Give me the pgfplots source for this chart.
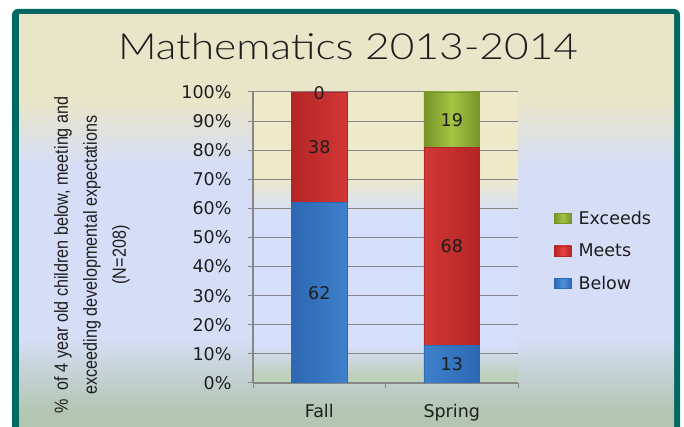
\documentclass[border=0pt]{standalone}
\usepackage{pgfplots}
\pgfplotsset{compat=1.18}
\usepackage{fontspec}
\setmainfont{DejaVu Sans}
\newfontfamily\titlefont[FakeStretch=1.18]{Lato Light}
\newfontfamily\narrowfont[FakeStretch=0.85]{Liberation Sans}
\definecolor{frame}{RGB}{0,104,98}
\definecolor{bgbeige}{RGB}{233,229,200}
\definecolor{bgblue}{RGB}{214,222,247}
\definecolor{bggreen}{RGB}{178,198,178}
\definecolor{pabeige}{RGB}{237,233,201}
\definecolor{pablue}{RGB}{214,223,250}
\definecolor{pagreen}{RGB}{190,207,188}
\definecolor{bluedark}{RGB}{45,104,178}
\definecolor{bluelight}{RGB}{75,145,222}
\definecolor{reddark}{RGB}{180,38,38}
\definecolor{redlight}{RGB}{232,66,66}
\definecolor{greendark}{RGB}{118,148,40}
\definecolor{greenlight}{RGB}{165,196,68}
\definecolor{gridgray}{RGB}{135,135,135}
\definecolor{txt}{RGB}{30,30,30}
\pgfdeclareverticalshading{chartbg}{100bp}{color(0bp)=(bggreen); color(28bp)=(bggreen); color(37bp)=(bgblue); color(57bp)=(bgblue); color(65bp)=(bgbeige); color(100bp)=(bgbeige)}
\pgfdeclareverticalshading{plotbg}{100bp}{color(0bp)=(pagreen); color(26.5bp)=(pagreen); color(31.5bp)=(pablue); color(54bp)=(pablue); color(60.5bp)=(pabeige); color(100bp)=(pabeige)}
\pgfplotstableread{
x below meets exceeds
0 62 38 0
1 13 68 19
}\datatable
\begin{document}
\begin{tikzpicture}[x=1pt,y=1pt]
\useasboundingbox (0,0) rectangle (684,427);
\begin{scope}
\clip (0,0) rectangle (684,427);
\fill[frame, rounded corners=6pt] (12,-20) rectangle (680,418);
\shade[shading=chartbg] (19,-10) rectangle (674,412);
\end{scope}
\node[font=\titlefont\fontsize{36}{40}\selectfont, text=txt, anchor=base] at (348,367) {Mathematics 2013-2014};
\node[rotate=90, align=center, font=\narrowfont\fontsize{19}{29}\selectfont, text=txt] at (92,172) {\%\ \ of 4 year old children below, meeting and\\exceeding developmental expectations\\(N=208)};
\begin{axis}[
  at={(253pt,44pt)}, anchor=south west,
  scale only axis, width=265pt, height=291pt,
  ybar stacked, bar width=0.42,
  xmin=-0.5, xmax=1.5, ymin=0, ymax=100,
  axis background/.style={shading=plotbg},
  xtick={0,1}, xticklabels={Fall,Spring},
  xtick style={draw=none},
  extra x ticks={-0.5,0.5,1.5}, extra x tick labels={},
  extra x tick style={xtick style={draw=gridgray, line width=1pt}},
  ytick={0,10,...,100},
  yticklabels={0\%,10\%,20\%,30\%,40\%,50\%,60\%,70\%,80\%,90\%,100\%},
  axis x line*=bottom, axis y line*=left,
  axis line style={gridgray, line width=1.2pt},
  tick align=outside, major tick length=5pt,
  ytick style={gridgray, line width=1pt},
  ymajorgrids, grid style={gridgray, line width=1pt},
  ticklabel style={font=\fontsize{17.5}{20}\selectfont, text=txt},
  yticklabel style={xshift=-13pt},
  xticklabel style={yshift=-13pt},
  legend cell align=left,
  reverse legend,
  legend style={draw=none, fill=none, at={(axis description cs:1.135,0.4536)}, anchor=west, inner sep=0pt, row sep=14pt, font=\fontsize{17.5}{20}\selectfont, text=txt},
  legend image code/.code={\path[#1] (0pt,-5pt) rectangle (17pt,5pt); \path (22pt,0pt);},
]
\addplot[draw=bluedark, line width=0.6pt, left color=bluedark, right color=bluedark, middle color=bluelight] table[x=x, y=below] {\datatable};
\addplot[draw=reddark, line width=0.6pt, left color=reddark, right color=reddark, middle color=redlight] table[x=x, y=meets] {\datatable};
\addplot[draw=greendark, line width=0.6pt, left color=greendark, right color=greendark, middle color=greenlight] table[x=x, y=exceeds] {\datatable};
\legend{Below,Meets,Exceeds}
\end{axis}
\begin{axis}[
  at={(253pt,44pt)}, anchor=south west,
  scale only axis, width=265pt, height=291pt,
  xmin=-0.5, xmax=1.5, ymin=0, ymax=100,
  hide axis, clip=false,
]
\addplot[only marks, mark=none, nodes near coords, point meta=explicit symbolic,
  nodes near coords style={anchor=center, font=\fontsize{17.5}{20}\selectfont, text=txt}]
  table[meta=lab] {
x y lab
0 31 62
0 81 38
0 99.5 0
1 6.5 13
1 47 68
1 90.5 19
};
\end{axis}
\end{tikzpicture}
\end{document}
